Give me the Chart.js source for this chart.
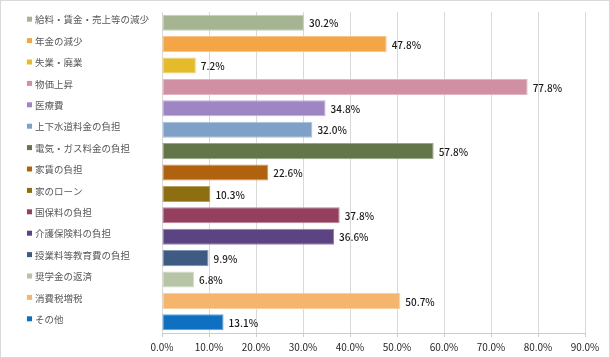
<!DOCTYPE html>
<html>
<head>
<meta charset="utf-8">
<script src="https://cdn.jsdelivr.net/npm/chart.js@4/dist/chart.umd.min.js"></script>
<style>
html, body { margin: 0; padding: 0; background: #fff; }
#wrap { position: relative; width: 608px; height: 356px; border: 1px solid #d9d9d9; }
</style>
</head>
<body>
<div id="wrap"><canvas id="chart" width="608" height="356"></canvas></div>
<script>
var categories = ["給料・賃金・売上等の減少", "年金の減少", "失業・廃業", "物価上昇", "医療費",
    "上下水道料金の負担", "電気・ガス料金の負担", "家賃の負担", "家のローン", "国保料の負担",
    "介護保険料の負担", "授業料等教育費の負担", "奨学金の返済", "消費税増税", "その他"];
var values = [30.2, 47.8, 7.2, 77.8, 34.8, 32.0, 57.8, 22.6, 10.3, 37.8, 36.6, 9.9, 6.8, 50.7, 13.1];
var barColors = ["#a5b592", "#f4a545", "#e5bb2b", "#d08fa3", "#9e86c3", "#7fa0c7", "#627649", "#b0620f",
    "#8d6e10", "#943f5d", "#5c4381", "#3e5b83", "#b7c4a6", "#f5b56d", "#0f6fc1"];
var xTicks = [0, 10, 20, 30, 40, 50, 60, 70, 80, 90];

var FONT = "'Noto Sans CJK JP', 'Noto Sans', sans-serif";

function lighten(hex, amt) {
    var n = parseInt(hex.slice(1), 16);
    var r = (n >> 16) & 255, g = (n >> 8) & 255, b = n & 255;
    r = Math.round(r + (255 - r) * amt);
    g = Math.round(g + (255 - g) * amt);
    b = Math.round(b + (255 - b) * amt);
    return "rgb(" + r + "," + g + "," + b + ")";
}

// left side labels with small colour squares
var sideLabels = {
    id: "sideLabels",
    afterDraw: function(chart) {
        var ctx = chart.ctx;
        var y = chart.scales.y;
        ctx.save();
        ctx.font = "9.5px " + FONT;
        ctx.textBaseline = "middle";
        ctx.textAlign = "left";
        for (var i = 0; i < categories.length; i++) {
            var cy = y.getPixelForValue(i);
            ctx.fillStyle = barColors[i];
            ctx.fillRect(26, cy - 6, 5, 5);
            ctx.fillStyle = "#595959";
            ctx.fillText(categories[i], 34, cy - 3);
        }
        ctx.restore();
    }
};

// value labels at end of each bar
var valueLabels = {
    id: "valueLabels",
    afterDatasetsDraw: function(chart) {
        var ctx = chart.ctx;
        var meta = chart.getDatasetMeta(0);
        ctx.save();
        ctx.font = "500 10px " + FONT;
        ctx.fillStyle = "#1a1a1a";
        ctx.textBaseline = "middle";
        ctx.textAlign = "left";
        meta.data.forEach(function(bar, i) {
            ctx.fillText(values[i].toFixed(1) + "%", bar.x + 5, bar.y + 1);
        });
        ctx.restore();
    }
};

new Chart(document.getElementById("chart"), {
    type: "bar",
    data: {
        labels: categories,
        datasets: [{
            data: values,
            backgroundColor: barColors,
            borderColor: barColors.map(function(c) { return lighten(c, 0.35); }),
            borderWidth: 1,
            borderSkipped: false,
            barPercentage: 0.75,
            categoryPercentage: 1.0
        }]
    },
    options: {
        indexAxis: "y",
        responsive: false,
        animation: false,
        layout: { padding: { left: 161, right: 24, top: 11, bottom: 0 } },
        plugins: {
            legend: { display: false },
            tooltip: { enabled: false }
        },
        scales: {
            x: {
                min: 0,
                max: 90,
                afterBuildTicks: function(axis) {
                    axis.ticks = xTicks.map(function(v) { return { value: v }; });
                },
                ticks: {
                    font: { family: FONT, size: 10 },
                    color: "#262626",
                    padding: 4,
                    callback: function(v) { return v.toFixed(1) + "%"; }
                },
                grid: {
                    color: "#d9d9d9",
                    tickColor: "#c7d5b1",
                    tickLength: 4,
                    drawTicks: true
                },
                border: { color: "#c7d5b1" }
            },
            y: {
                ticks: { display: false },
                grid: { display: false },
                border: { display: false },
                afterFit: function(axis) { axis.width = 0; }
            }
        }
    },
    plugins: [sideLabels, valueLabels]
});
</script>
</body>
</html>
